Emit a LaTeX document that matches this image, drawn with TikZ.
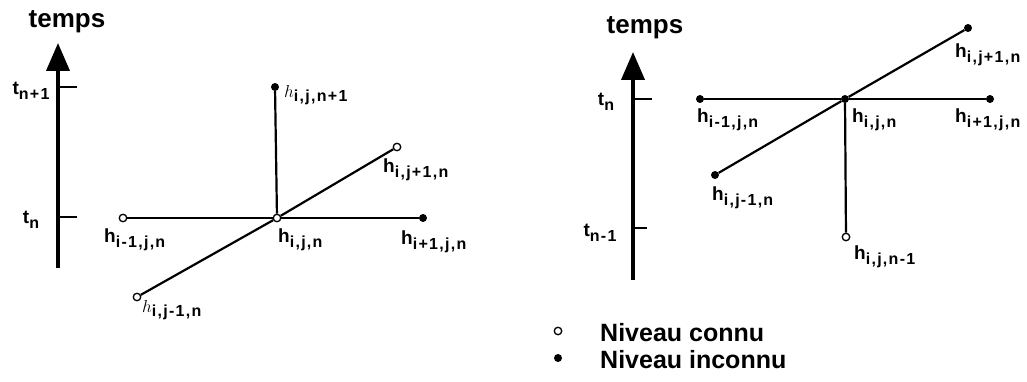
\documentclass[tikz,border=0pt]{standalone}
\usepackage{fontspec}
\setmainfont{Liberation Sans}
\usetikzlibrary{arrows.meta}

\newcommand{\hlab}[1]{{\fontsize{19}{19}\selectfont h}\raisebox{-4.5pt}{\fontsize{16}{16}\selectfont\addfontfeature{LetterSpace=8}#1}}
\newcommand{\hlabit}[1]{{\fontsize{19}{19}\selectfont $h$}\raisebox{-4.5pt}{\fontsize{16}{16}\selectfont\addfontfeature{LetterSpace=8}#1}}
\newcommand{\tlab}[1]{{\fontsize{19}{19}\selectfont t}\raisebox{-4.5pt}{\fontsize{16}{16}\selectfont\addfontfeature{LetterSpace=8}#1}}

\begin{document}
\begin{tikzpicture}[x=1pt, y=-1pt, font=\bfseries,
    known/.style={circle, draw, fill=white, line width=1.3pt, minimum size=7.5pt, inner sep=0pt},
    unknown/.style={circle, fill=black, minimum size=8pt, inner sep=0pt},
    lab/.style={inner sep=0pt, anchor=west},
    lien/.style={line width=2.2pt},
    axe/.style={line width=4pt, -{Triangle[width=23pt,length=28pt]}}]
        \useasboundingbox (0,0) rectangle (1027,382);
        % schéma de gauche : axe du temps
        \node[inner sep=0pt, font=\fontsize{26}{26}\selectfont\bfseries] (tempsG) at (67,22) {temps};
        \coordinate (axeGb) at (58,268);
        \coordinate (axeGh) at (58,43);
        \draw[axe] (axeGb) -- (axeGh);
        \coordinate (tickGa) at (58,87);
        \coordinate (tickGb) at (58,217);
        \draw[lien] (tickGa) -- ++(19,0);
        \draw[lien] (tickGb) -- ++(19,0);
        \node[inner sep=0pt] (tGa) at (31,91) {\tlab{n+1}};
        \node[inner sep=0pt] (tGb) at (31,220) {\tlab{n}};
        % schéma de gauche : points
        \node[known] (gC) at (277,218) {};
        \node[known] (gL) at (123,218) {};
        \node[unknown] (gR) at (423,218) {};
        \node[unknown] (gT) at (275,87) {};
        \node[known] (gUR) at (397,147) {};
        \node[known] (gLL) at (137,297) {};
        \draw[lien] (gL) -- (gC) -- (gR);
        \draw[lien] (gC) -- (gT);
        \draw[lien] (gLL) -- (gC) -- (gUR);
        % schéma de gauche : étiquettes
        \node[lab] (lgT) at (284,95) {\hlabit{i,j,n+1}};
        \node[lab] (lgUR) at (383,170) {\hlab{i,j+1,n}};
        \node[lab] (lgL) at (104,240) {\hlab{i-1,j,n}};
        \node[lab] (lgC) at (278,240) {\hlab{i,j,n}};
        \node[lab] (lgR) at (401,242) {\hlab{i+1,j,n}};
        \node[lab] (lgLL) at (142,310) {\hlabit{i,j-1,n}};
        % schéma de droite : axe du temps
        \node[inner sep=0pt, font=\fontsize{26}{26}\selectfont\bfseries] (tempsD) at (645,28) {temps};
        \coordinate (axeDb) at (633,280);
        \coordinate (axeDh) at (633,52);
        \draw[axe] (axeDb) -- (axeDh);
        \coordinate (tickDa) at (633,99);
        \coordinate (tickDb) at (633,228);
        \draw[lien] (tickDa) -- ++(19,0);
        \draw[lien] (tickDb) -- ++(14,0);
        \node[inner sep=0pt] (tDa) at (606,102) {\tlab{n}};
        \node[inner sep=0pt] (tDb) at (600,233) {\tlab{n-1}};
        % schéma de droite : points
        \node[unknown] (dC) at (845,99) {};
        \node[unknown] (dL) at (700,99) {};
        \node[unknown] (dR) at (990,99) {};
        \node[unknown] (dUR) at (968,28) {};
        \node[unknown] (dLL) at (715,175) {};
        \node[known] (dB) at (846,237) {};
        \draw[lien] (dL) -- (dC) -- (dR);
        \draw[lien] (dC) -- (dB);
        \draw[lien] (dLL) -- (dC) -- (dUR);
        % schéma de droite : étiquettes
        \node[lab] (ldUR) at (955,55) {\hlab{i,j+1,n}};
        \node[lab] (ldL) at (697,120) {\hlab{i-1,j,n}};
        \node[lab] (ldC) at (852,120) {\hlab{i,j,n}};
        \node[lab] (ldR) at (955,120) {\hlab{i+1,j,n}};
        \node[lab] (ldLL) at (712,198) {\hlab{i,j-1,n}};
        \node[lab] (ldB) at (854,257) {\hlab{i,j,n-1}};
        % légende
        \node[known] (legC) at (558,331) {};
        \node[unknown] (legI) at (558,358) {};
        \node[lab, font=\fontsize{25}{25}\selectfont\bfseries] (txtC) at (600,333) {Niveau connu};
        \node[lab, font=\fontsize{25}{25}\selectfont\bfseries] (txtI) at (600,360) {Niveau inconnu};
    \end{tikzpicture}
\end{document}
